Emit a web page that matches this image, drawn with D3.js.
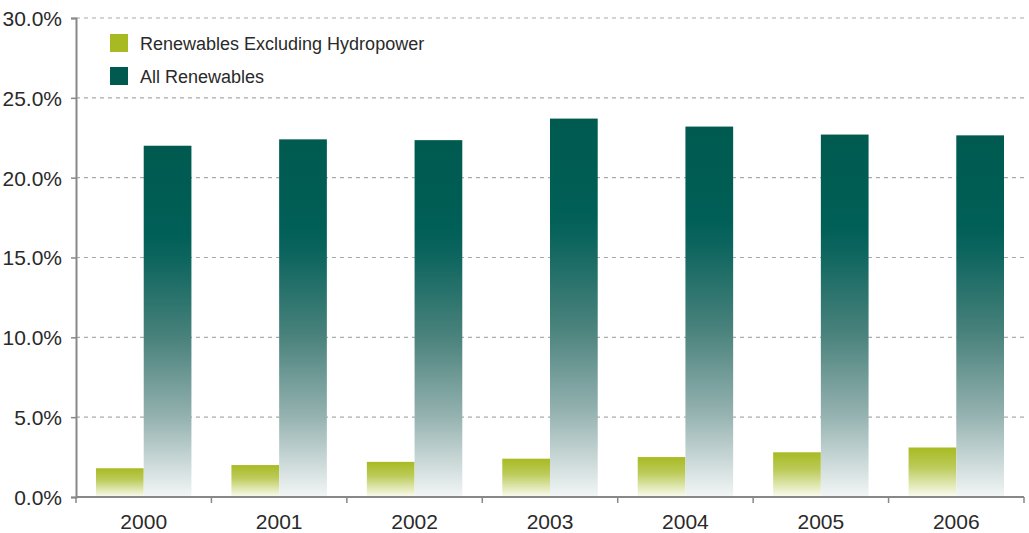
<!DOCTYPE html>
<html>
<head>
<meta charset="utf-8">
<script src="https://cdn.jsdelivr.net/npm/d3@7"></script>
<style>
  body { margin: 0; background: #fff; }
  svg text { font-family: "Liberation Sans", Arial, sans-serif; fill: #2a2a2a; }
</style>
</head>
<body>
<svg id="chart" width="1029" height="533"></svg>
<script>
const years = ["2000", "2001", "2002", "2003", "2004", "2005", "2006"];
const exclHydro = [1.8, 2.0, 2.2, 2.4, 2.5, 2.8, 3.1];
const allRenew = [22.0, 22.4, 22.35, 23.7, 23.2, 22.7, 22.65];
const yTicks = [0, 5, 10, 15, 20, 25, 30];
const seriesNames = ["Renewables Excluding Hydropower", "All Renewables"];

const svg = d3.select("#chart");
const margin = { top: 18, right: 5, bottom: 36, left: 76 };
const W = 1029, H = 533;

const x = d3.scaleBand().domain(years).range([margin.left, W - margin.right]).paddingInner(0).paddingOuter(0);
const inner = d3.scaleBand().domain([0, 1]).range([20, x.bandwidth() - 20]);
const y = d3.scaleLinear().domain([0, 30]).range([H - margin.bottom, margin.top]);

// gradients
const defs = svg.append("defs");
const gTeal = defs.append("linearGradient").attr("id", "gTeal").attr("x1", 0).attr("y1", 0).attr("x2", 0).attr("y2", 1);
[[0, "#005a50"], [0.25, "#005f57"], [0.32, "#0c655e"], [0.55, "#4a827c"], [0.77, "#93b1af"], [1, "#f3f6f6"]]
  .forEach(([o, c]) => gTeal.append("stop").attr("offset", o).attr("stop-color", c));
const gGreen = defs.append("linearGradient").attr("id", "gGreen").attr("x1", 0).attr("y1", 0).attr("x2", 0).attr("y2", 1);
[[0, "#a8ba22"], [0.4, "#bccb5a"], [1, "#fbfcf2"]]
  .forEach(([o, c]) => gGreen.append("stop").attr("offset", o).attr("stop-color", c));

// grid
svg.append("g").selectAll("line").data(yTicks.filter(d => d > 0)).join("line")
  .attr("x1", margin.left).attr("x2", W - margin.right)
  .attr("y1", d => y(d)).attr("y2", d => y(d))
  .attr("stroke", "#aaa").attr("stroke-width", 1.2).attr("stroke-dasharray", "4,4");

// bars
const groups = svg.append("g").selectAll("g").data(years).join("g")
  .attr("transform", d => `translate(${x(d)},0)`);
groups.append("rect")
  .attr("x", inner(0)).attr("width", inner.bandwidth())
  .attr("y", (d, i) => y(exclHydro[i])).attr("height", (d, i) => y(0) - y(exclHydro[i]))
  .attr("fill", "url(#gGreen)");
groups.append("rect")
  .attr("x", inner(1)).attr("width", inner.bandwidth())
  .attr("y", (d, i) => y(allRenew[i])).attr("height", (d, i) => y(0) - y(allRenew[i]))
  .attr("fill", "url(#gTeal)");

// y axis
const yAxis = svg.append("g").attr("transform", `translate(${margin.left},0)`)
  .call(d3.axisLeft(y).tickValues(yTicks).tickSize(5).tickFormat(d => d.toFixed(1) + "%"));
yAxis.select(".domain").attr("stroke", "#888").attr("stroke-width", 2);
yAxis.selectAll(".tick line").attr("stroke", "#888").attr("stroke-width", 1.5);
yAxis.selectAll("text").attr("font-size", 21).attr("x", -14).attr("dy", "0.35em");

// x axis
const xAxisG = svg.append("g").attr("transform", `translate(0,${y(0)})`);
xAxisG.append("line").attr("x1", margin.left).attr("x2", W - margin.right)
  .attr("stroke", "#888").attr("stroke-width", 2);
xAxisG.selectAll("line.tk").data(years.concat(["end"])).join("line").attr("class", "tk")
  .attr("x1", d => d === "end" ? W - margin.right : x(d))
  .attr("x2", d => d === "end" ? W - margin.right : x(d))
  .attr("y1", 0).attr("y2", 6).attr("stroke", "#888").attr("stroke-width", 1.5);
xAxisG.selectAll("text").data(years).join("text")
  .attr("x", d => x(d) + x.bandwidth() / 2).attr("y", 32)
  .attr("text-anchor", "middle").attr("font-size", 21).text(d => d);

// legend
const legend = svg.append("g").attr("transform", "translate(110,34)");
const legendFill = ["#a8ba22", "#005a50"];
seriesNames.forEach((name, i) => {
  const row = legend.append("g").attr("transform", `translate(0,${i * 33})`);
  row.append("rect").attr("width", 18).attr("height", 18).attr("fill", legendFill[i]);
  row.append("text").attr("x", 30).attr("y", 16).attr("font-size", 18).text(name);
});
</script>
</body>
</html>
